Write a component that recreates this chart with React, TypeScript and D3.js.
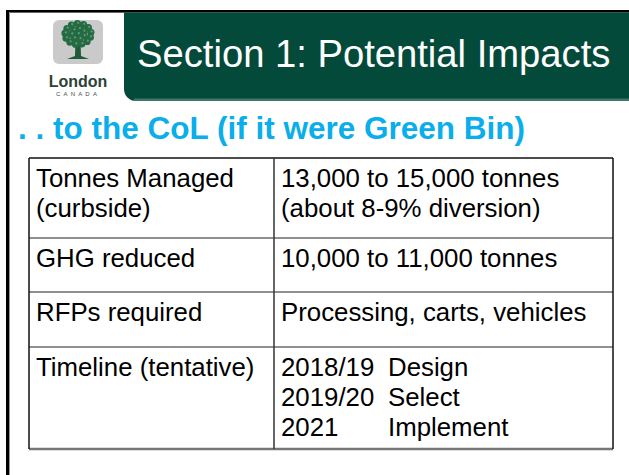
import React from "react";
import * as d3 from "d3";

// slide content
const title = "Section 1: Potential Impacts";
const subtitle = ". . to the CoL (if it were Green Bin)";
const rowLabels = [["Tonnes Managed", "(curbside)"], ["GHG reduced"], ["RFPs required"], ["Timeline (tentative)"]];
const rowValues = [
  ["13,000 to 15,000 tonnes", "(about 8-9% diversion)"],
  ["10,000 to 11,000 tonnes"],
  ["Processing, carts, vehicles"],
];
const timelineYears = ["2018/19", "2019/20", "2021"];
const timelinePhases = ["Design", "Select", "Implement"];

// layout
const W = 629;
const H = 475;
const tableLeft = 29;
const tableRight = 613;
const colSplit = 274;
const tableTop = 158;
const rowHeights = [80, 54, 55, 102];
const lineGap = 30;
const font = "'Liberation Sans', Arial, sans-serif";

const Logo = () => {
  const cx = 78;
  const cy = 35;
  // canopy blobs laid out on rings
  const rings = [
    { r: 0, n: 1 },
    { r: 6.5, n: 7 },
    { r: 13, n: 13 },
  ];
  const leaves = rings.flatMap((ring, i) =>
    d3.range(ring.n).map((k) => {
      const a = (k / ring.n) * Math.PI * 2 + i * 0.4;
      return { x: cx + ring.r * Math.cos(a), y: cy - 1 + ring.r * 0.8 * Math.sin(a) };
    })
  );
  return (
    <g>
      <rect x={53} y={20} width={50} height={44} rx={6} fill="#cacaca" />
      <path d={`M${cx - 2.5},${cy + 4} L${cx - 3},${cy + 21} L${cx - 11},${cy + 24} L${cx + 11},${cy + 24} L${cx + 3},${cy + 21} L${cx + 2.5},${cy + 4} Z`} fill="#1f5a3a" />
      {leaves.map((p, i) => (
        <circle key={i} cx={p.x} cy={p.y} r={3.6} fill="#246b43" />
      ))}
      {leaves.map((p, i) => (
        <circle key={"h" + i} cx={p.x + 0.8} cy={p.y - 0.8} r={1.1} fill="#5f9a72" />
      ))}
      <text x={78} y={87} textAnchor="middle" fontFamily={font} fontSize={16} fontWeight="bold" fill="#2c4236">London</text>
      <text x={78} y={95.5} textAnchor="middle" fontFamily={font} fontSize={6} letterSpacing={3.2} fill="#3e5046">CANADA</text>
    </g>
  );
};

export default function App() {
  const bounds = [tableTop, ...Array.from(d3.cumsum(rowHeights), (h) => tableTop + h)];
  const y = d3.scaleOrdinal<number, number>().domain(d3.range(rowHeights.length)).range(bounds);
  const tableBottom = bounds[bounds.length - 1];

  const lines = (arr: string[], x: number, y0: number, key: string) =>
    arr.map((t, i) => (
      <text key={key + i} x={x} y={y0 + i * lineGap} fontFamily={font} fontSize={25.8} fill="#000">
        {t}
      </text>
    ));

  return (
    <svg width={W} height={H} style={{ position: "fixed", left: 0, top: 0, background: "#fff" }}>
      {/* slide frame */}
      <rect x={6} y={10} width={W - 6} height={2.6} fill="#000" />
      <rect x={6} y={10} width={3} height={H - 10} fill="#000" />
      <rect x={9} y={12} width={1} height={H - 12} fill="#999" />

      {/* header band */}
      <path
        d={`M124,12.6 H${W} V101 H136 A12,12 0 0 1 124,89 Z`}
        fill="#044a3b"
      />
      <rect x={134} y={98.5} width={W - 134} height={2.5} fill="#3e786b" />
      <text x={137} y={67} fontFamily={font} fontSize={38.2} fill="#fff">{title}</text>

      <Logo />

      <text x={18} y={139} fontFamily={font} fontSize={31.5} fontWeight="bold" fill="#0aaeea">{subtitle}</text>

      {/* table */}
      {bounds.slice(1, -1).map((b, i) => (
        <line key={i} x1={tableLeft} x2={tableRight} y1={b} y2={b} stroke="#6b6b6b" strokeWidth={1.5} />
      ))}
      <line x1={tableLeft} x2={tableRight} y1={tableTop} y2={tableTop} stroke="#111" strokeWidth={1.5} />
      <line x1={tableLeft} x2={tableRight} y1={tableBottom} y2={tableBottom} stroke="#777" strokeWidth={2.5} />
      <line x1={tableLeft} x2={tableLeft} y1={tableTop} y2={tableBottom} stroke="#111" strokeWidth={1.5} />
      <line x1={tableRight} x2={tableRight} y1={tableTop} y2={tableBottom} stroke="#111" strokeWidth={1.5} />
      <line x1={colSplit} x2={colSplit} y1={tableTop} y2={tableBottom} stroke="#333" strokeWidth={1.5} />

      {rowLabels.map((lab, i) => lines(lab, 36, y(i) + 29, "l" + i))}
      {rowValues.map((val, i) => lines(val, 281, y(i) + 29, "v" + i))}
      {lines(timelineYears, 281, y(3) + 29, "ty")}
      {lines(timelinePhases, 388, y(3) + 29, "tp")}
    </svg>
  );
}
